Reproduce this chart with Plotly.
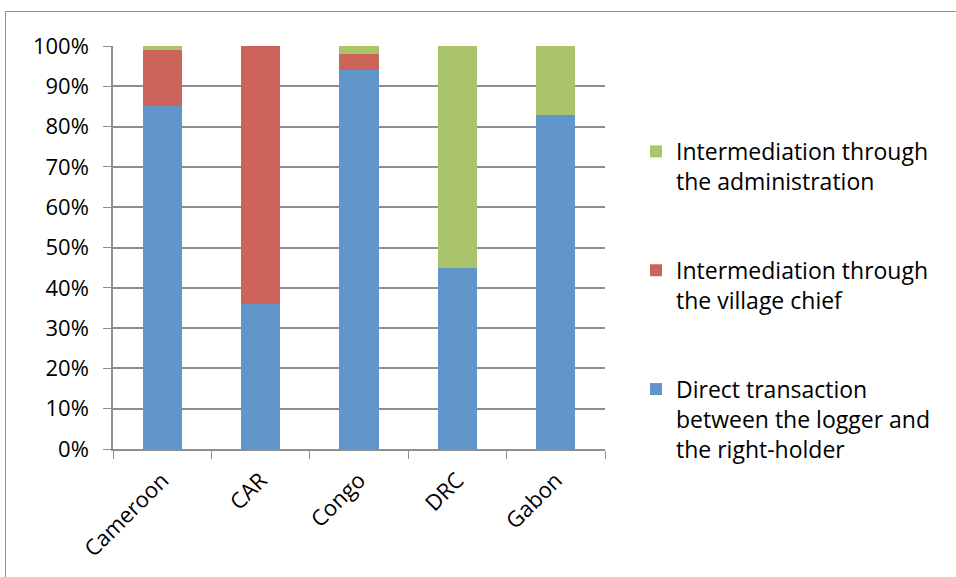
import plotly.graph_objects as go

countries = ["Cameroon", "CAR", "Congo", "DRC", "Gabon"]
direct = [85, 36, 94, 45, 83]
village_chief = [14, 64, 4, 0, 0]
administration = [1, 0, 2, 55, 17]

series_names = [
    "Direct transaction<br>between the logger and<br>the right-holder",
    "Intermediation through<br>the village chief",
    "Intermediation through<br>the administration",
]
series_colors = ["#6096c9", "#cc645c", "#a9c46b"]
series_values = [direct, village_chief, administration]
legend_ranks = [3, 2, 1]

W, H = 956, 577
L, R, T, B = 113, 605, 46, 449

fig = go.Figure()
for name, color, vals, rank in zip(series_names, series_colors, series_values, legend_ranks):
    fig.add_trace(go.Bar(
        x=countries, y=vals, name=name, legendgroup=name, legendrank=rank,
        marker=dict(color=color, line=dict(width=0)),
        width=0.4,
    ))

grid = "#8f8f8f"
font = "Open Sans, Liberation Sans, sans-serif"

def px_x(p):
    return (p - L) / (R - L)

def px_y(p):
    return (B - p) / (B - T)

fig.update_layout(
    width=W, height=H,
    margin=dict(l=L, r=W - R, t=T, b=H - B, pad=0),
    barmode="stack",
    paper_bgcolor="white", plot_bgcolor="white",
    font=dict(family=font, size=22, color="#000000"),
    showlegend=True,
    legend=dict(
        traceorder="grouped", tracegroupgap=56, valign="top",
        x=px_x(636), y=px_y(130), xanchor="left", yanchor="top",
        font=dict(size=23, family=font), itemwidth=30,
        bgcolor="rgba(0,0,0,0)",
    ),
    xaxis=dict(
        showgrid=False, showline=True, linecolor=grid, linewidth=1.5,
        ticks="outside", tickson="boundaries", ticklen=8, tickcolor=grid,
        tickangle=-45, tickfont=dict(size=22), ticklabelstandoff=8,
        fixedrange=True,
    ),
    yaxis=dict(
        range=[0, 100], tickvals=list(range(0, 101, 10)),
        ticktext=[f"{v}%" for v in range(0, 101, 10)],
        showgrid=True, gridcolor=grid, gridwidth=1.5,
        showline=True, linecolor=grid, linewidth=1.5,
        ticks="outside", ticklen=8, tickcolor=grid,
        tickfont=dict(size=22), ticklabelstandoff=10,
        zeroline=False, fixedrange=True,
    ),
    shapes=[dict(
        type="rect", xref="paper", yref="paper",
        x0=px_x(5.5), x1=px_x(990), y0=px_y(600), y1=px_y(11.5),
        line=dict(color="#8e8e8e", width=1), layer="below",
    )],
)

fig.write_html("out.html")
